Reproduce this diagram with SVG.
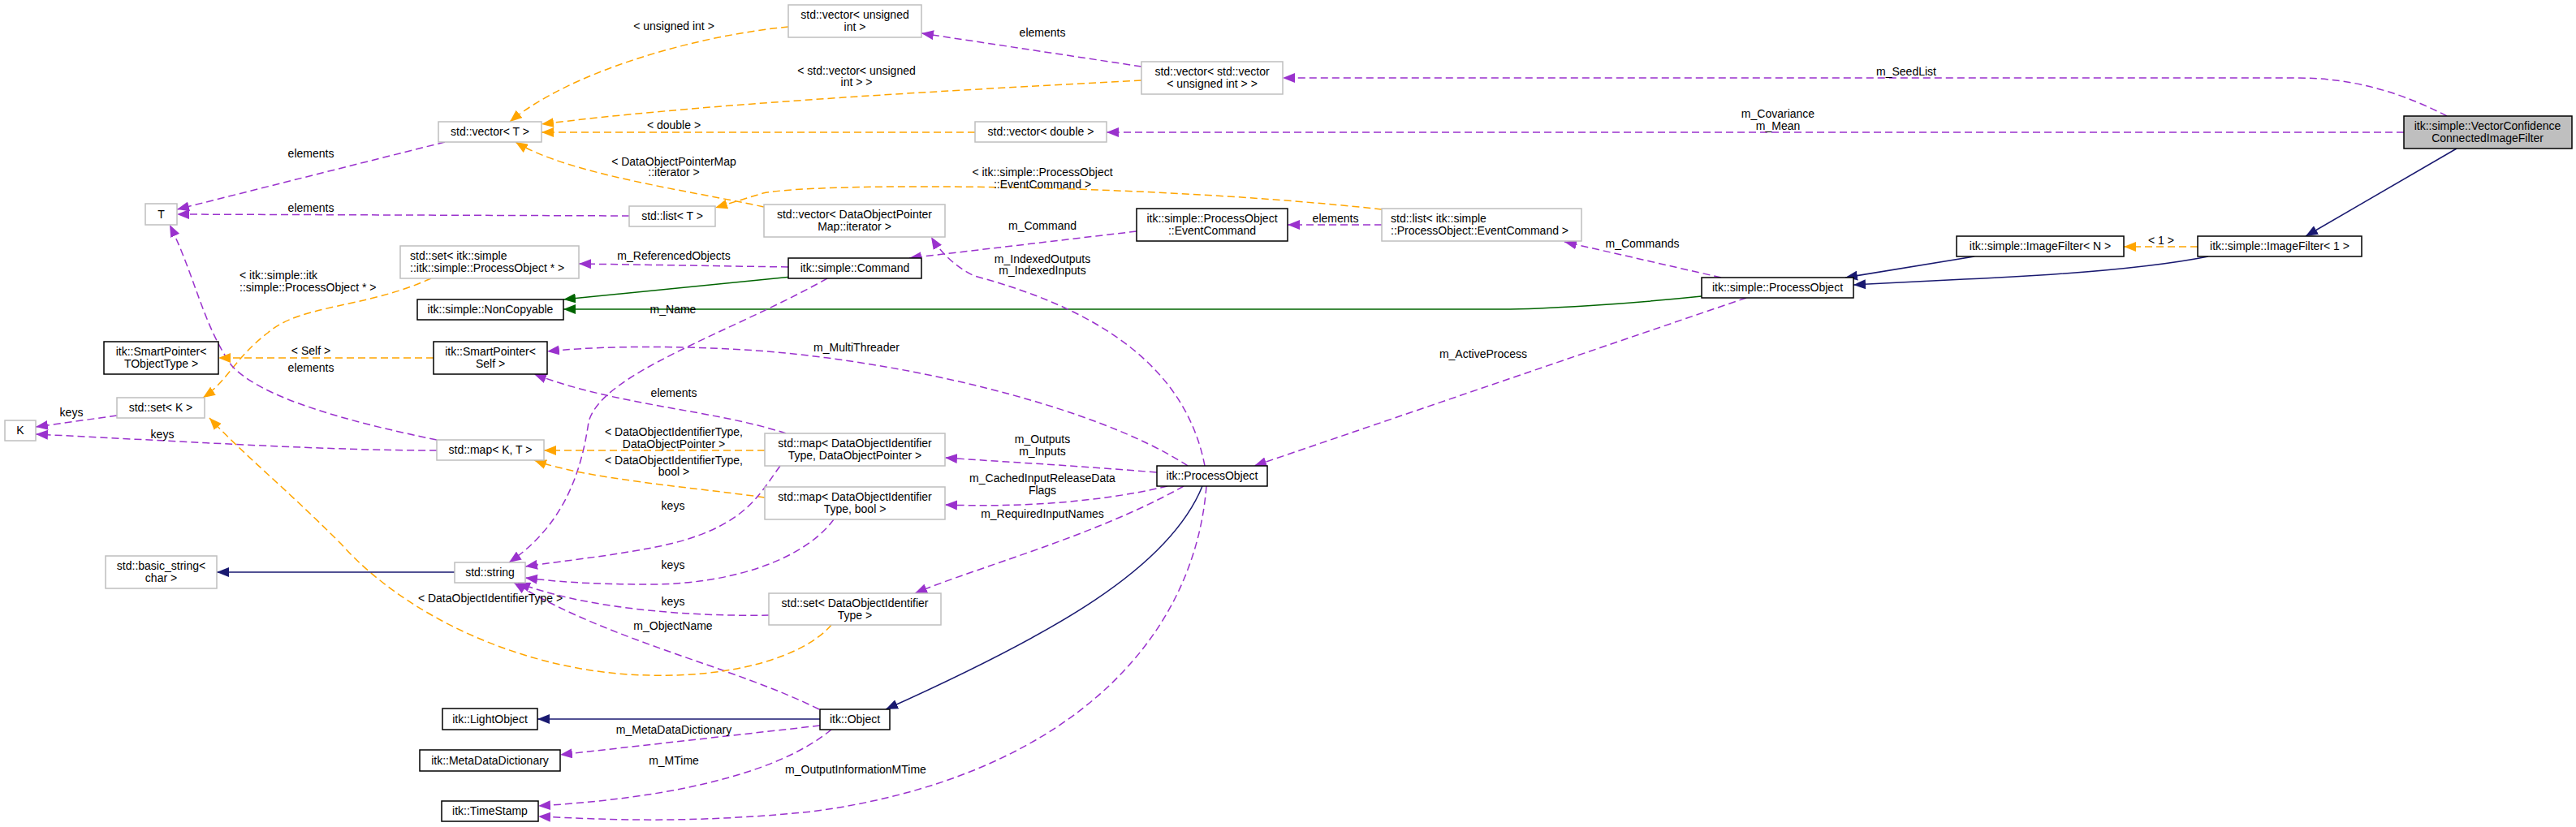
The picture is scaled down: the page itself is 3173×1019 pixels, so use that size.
<svg xmlns="http://www.w3.org/2000/svg" width="3173" height="1019" viewBox="0 0 3173 1019">
<style>
text{font-family:"Liberation Sans",Arial,sans-serif;font-size:14px;fill:#000;text-anchor:middle}
.l{text-anchor:start}
.g rect{fill:#fff;stroke:#bfbfbf;stroke-width:1.5}
.b rect{fill:#fff;stroke:#000;stroke-width:1.5}
.cur rect{fill:#bfbfbf;stroke:#000;stroke-width:1.5}
.e path{fill:none;stroke-width:1.5}
.u{stroke:#9a32cd;stroke-dasharray:9,5;marker-end:url(#ap)}
.t{stroke:#ffa500;stroke-dasharray:9,5;marker-end:url(#ao)}
.i{stroke:#191970;marker-end:url(#ab)}
.p{stroke:#006400;marker-end:url(#ag)}
</style>
<defs>
<marker id="ap" markerUnits="userSpaceOnUse" markerWidth="16" markerHeight="12" refX="15" refY="6" orient="auto"><path d="M0,0 L15,6 L0,12 z" fill="#9a32cd"/></marker>
<marker id="ao" markerUnits="userSpaceOnUse" markerWidth="16" markerHeight="12" refX="15" refY="6" orient="auto"><path d="M0,0 L15,6 L0,12 z" fill="#ffa500"/></marker>
<marker id="ab" markerUnits="userSpaceOnUse" markerWidth="16" markerHeight="12" refX="15" refY="6" orient="auto"><path d="M0,0 L15,6 L0,12 z" fill="#191970"/></marker>
<marker id="ag" markerUnits="userSpaceOnUse" markerWidth="16" markerHeight="12" refX="15" refY="6" orient="auto"><path d="M0,0 L15,6 L0,12 z" fill="#006400"/></marker>
</defs>
<rect width="3173" height="1019" fill="#fff"/>
<g id="connectors" class="e">
<path class="i" d="M3026,183 L2840,291"/>
<path class="u" d="M3014,143 C2960,115 2900,96 2830,96 L1580,96"/>
<path class="u" d="M2961,163 L1363,163"/>
<path class="t" d="M2707,304 L2616,304"/>
<path class="i" d="M2720,316 C2640,332 2520,340 2400,345 L2283,351"/>
<path class="i" d="M2432,316 L2273,342"/>
<path class="p" d="M2096,365 C2000,375 1900,381 1850,381 L694,381"/>
<path class="p" d="M975,341 L694,369"/>
<path class="u" d="M2120,342 L1927,298"/>
<path class="u" d="M2151,367 L1545,574"/>
<path class="u" d="M1702,277 L1586,277"/>
<path class="t" d="M1702,258 C1400,225 1000,225 940,238 L881,256"/>
<path class="u" d="M1400,285 L1120,318"/>
<path class="u" d="M1406,82 L1135,41"/>
<path class="t" d="M1406,99 C1100,115 850,130 667,153"/>
<path class="t" d="M971,33 C850,45 700,90 628,150"/>
<path class="t" d="M1201,163 L667,163"/>
<path class="t" d="M941,255 C850,235 700,215 635,175"/>
<path class="u" d="M775,266 L218,264"/>
<path class="u" d="M548,175 L218,258"/>
<path class="u" d="M1484,574 C1460,450 1350,380 1200,340 C1170,325 1155,305 1147,292"/>
<path class="u" d="M971,329 L713,325"/>
<path class="t" d="M531,343 C450,380 370,375 330,410 C290,440 280,470 250,490"/>
<path class="u" d="M1019,343 C900,410 740,460 725,520 C715,590 690,650 627,693"/>
<path class="u" d="M1463,574 C1350,500 1100,440 900,430 C800,425 720,428 674,433"/>
<path class="u" d="M968,534 C880,505 760,500 658,461"/>
<path class="t" d="M942,555 L670,555"/>
<path class="t" d="M942,613 C850,600 720,590 658,567"/>
<path class="u" d="M538,542 C430,520 320,490 285,450 C250,400 240,340 209,277"/>
<path class="t" d="M534,441 L269,441"/>
<path class="u" d="M144,512 L44,526"/>
<path class="u" d="M538,555 C400,555 250,545 44,535"/>
<path class="u" d="M1425,582 C1300,572 1250,570 1164,564"/>
<path class="u" d="M1438,599 C1350,620 1250,625 1164,622"/>
<path class="u" d="M1458,599 C1350,660 1200,700 1127,731"/>
<path class="u" d="M961,574 C935,610 920,640 851,663 C800,680 700,690 647,698"/>
<path class="u" d="M1027,640 C990,690 900,720 800,720 C720,720 680,716 647,712"/>
<path class="u" d="M947,758 C850,760 720,750 638,718"/>
<path class="u" d="M1009,874 C900,820 750,790 633,718"/>
<path class="t" d="M1024,770 C990,810 900,835 800,832 C650,830 500,760 420,670 C350,600 300,560 258,515"/>
<path class="i" d="M1481,599 C1440,700 1300,780 1091,874"/>
<path class="u" d="M1486,599 C1470,800 1300,960 1000,1000 C850,1015 750,1010 663,1006"/>
<path class="i" d="M1010,886 L662,886"/>
<path class="u" d="M1010,894 L690,930"/>
<path class="u" d="M1024,899 C950,960 800,985 663,993"/>
<path class="i" d="M560,705 L267,705"/>
</g>
<g id="edge-labels">
<text x="2348" y="93">m_SeedList</text>
<text x="2190" y="145">m_Covariance</text>
<text x="2190" y="160">m_Mean</text>
<text x="2662" y="301">&lt; 1 &gt;</text>
<text x="2023" y="305">m_Commands</text>
<text x="1827" y="441">m_ActiveProcess</text>
<text x="1645" y="274">elements</text>
<text x="1284" y="45">elements</text>
<text x="1284" y="217">&lt; itk::simple::ProcessObject</text>
<text x="1284" y="232">::EventCommand &gt;</text>
<text x="1284" y="283">m_Command</text>
<text x="1284" y="324">m_IndexedOutputs</text>
<text x="1284" y="338">m_IndexedInputs</text>
<text x="1055" y="92">&lt; std::vector&lt; unsigned</text>
<text x="1055" y="106">int &gt; &gt;</text>
<text x="830" y="37">&lt; unsigned int &gt;</text>
<text x="830" y="159">&lt; double &gt;</text>
<text x="830" y="204">&lt; DataObjectPointerMap</text>
<text x="830" y="217">::iterator &gt;</text>
<text x="383" y="194">elements</text>
<text x="383" y="261">elements</text>
<text x="830" y="320">m_ReferencedObjects</text>
<text class="l" x="295" y="344">&lt; itk::simple::itk</text>
<text class="l" x="295" y="359">::simple::ProcessObject * &gt;</text>
<text x="829" y="386">m_Name</text>
<text x="1055" y="433">m_MultiThreader</text>
<text x="383" y="437">&lt; Self &gt;</text>
<text x="383" y="458">elements</text>
<text x="830" y="489">elements</text>
<text x="88" y="513">keys</text>
<text x="200" y="540">keys</text>
<text x="830" y="537">&lt; DataObjectIdentifierType,</text>
<text x="830" y="552">DataObjectPointer &gt;</text>
<text x="830" y="572">&lt; DataObjectIdentifierType,</text>
<text x="830" y="586">bool &gt;</text>
<text x="1284" y="546">m_Outputs</text>
<text x="1284" y="561">m_Inputs</text>
<text x="1284" y="594">m_CachedInputReleaseData</text>
<text x="1284" y="609">Flags</text>
<text x="1284" y="638">m_RequiredInputNames</text>
<text x="829" y="628">keys</text>
<text x="829" y="701">keys</text>
<text x="604" y="742">&lt; DataObjectIdentifierType &gt;</text>
<text x="829" y="746">keys</text>
<text x="829" y="776">m_ObjectName</text>
<text x="830" y="904">m_MetaDataDictionary</text>
<text x="830" y="942">m_MTime</text>
<text x="1054" y="953">m_OutputInformationMTime</text>
</g>
<g id="n-vcc" class="cur"><rect x="2961" y="143" width="207" height="40"/><text x="3064" y="160">itk::simple::VectorConfidence</text><text x="3064" y="175">ConnectedImageFilter</text></g>
<g id="n-vecvec" class="g"><rect x="1406" y="76" width="174" height="40"/><text x="1493" y="93">std::vector&lt; std::vector</text><text x="1493" y="108">&lt; unsigned int &gt; &gt;</text></g>
<g id="n-vecuint" class="g"><rect x="971" y="6" width="164" height="40"/><text x="1053" y="23">std::vector&lt; unsigned</text><text x="1053" y="38">int &gt;</text></g>
<g id="n-vecT" class="g"><rect x="540" y="150" width="127" height="25"/><text x="603.5" y="167">std::vector&lt; T &gt;</text></g>
<g id="n-vecdouble" class="g"><rect x="1201" y="150" width="162" height="25"/><text x="1282" y="167">std::vector&lt; double &gt;</text></g>
<g id="n-T" class="g"><rect x="179" y="251" width="39" height="26"/><text x="198.5" y="269">T</text></g>
<g id="n-listT" class="g"><rect x="775" y="254" width="106" height="25"/><text x="828" y="271">std::list&lt; T &gt;</text></g>
<g id="n-vecdopm" class="g"><rect x="941" y="252" width="223" height="40"/><text x="1052.5" y="269">std::vector&lt; DataObjectPointer</text><text x="1052.5" y="284">Map::iterator &gt;</text></g>
<g id="n-eventcommand" class="b"><rect x="1400" y="257" width="186" height="40"/><text x="1493" y="274">itk::simple::ProcessObject</text><text x="1493" y="289">::EventCommand</text></g>
<g id="n-listec" class="g"><rect x="1702" y="257" width="246" height="40"/><text class="l" x="1713" y="274">std::list&lt; itk::simple</text><text class="l" x="1713" y="289">::ProcessObject::EventCommand &gt;</text></g>
<g id="n-setpo" class="g"><rect x="493" y="303" width="220" height="40"/><text class="l" x="505" y="320">std::set&lt; itk::simple</text><text class="l" x="505" y="335">::itk::simple::ProcessObject * &gt;</text></g>
<g id="n-command" class="b"><rect x="971" y="318" width="164" height="25"/><text x="1053" y="335">itk::simple::Command</text></g>
<g id="n-noncopyable" class="b"><rect x="514" y="369" width="180" height="25"/><text x="604" y="386">itk::simple::NonCopyable</text></g>
<g id="n-sptobj" class="b"><rect x="128" y="421" width="141" height="40"/><text x="198.5" y="438">itk::SmartPointer&lt;</text><text x="198.5" y="453">TObjectType &gt;</text></g>
<g id="n-spself" class="b"><rect x="534" y="421" width="140" height="40"/><text x="604" y="438">itk::SmartPointer&lt;</text><text x="604" y="453">Self &gt;</text></g>
<g id="n-setK" class="g"><rect x="144" y="490" width="108" height="25"/><text x="198" y="507">std::set&lt; K &gt;</text></g>
<g id="n-K" class="g"><rect x="6" y="518" width="38" height="25"/><text x="25" y="535">K</text></g>
<g id="n-mapKT" class="g"><rect x="538" y="542" width="132" height="25"/><text x="604" y="559">std::map&lt; K, T &gt;</text></g>
<g id="n-mapdop" class="g"><rect x="942" y="534" width="222" height="40"/><text x="1053" y="551">std::map&lt; DataObjectIdentifier</text><text x="1053" y="566">Type, DataObjectPointer &gt;</text></g>
<g id="n-mapbool" class="g"><rect x="942" y="600" width="222" height="40"/><text x="1053" y="617">std::map&lt; DataObjectIdentifier</text><text x="1053" y="632">Type, bool &gt;</text></g>
<g id="n-itkpo" class="b"><rect x="1425" y="574" width="136" height="25"/><text x="1493" y="591">itk::ProcessObject</text></g>
<g id="n-simplepo" class="b"><rect x="2096" y="342" width="187" height="25"/><text x="2189.5" y="359">itk::simple::ProcessObject</text></g>
<g id="n-ifN" class="b"><rect x="2410" y="291" width="206" height="25"/><text x="2513" y="308">itk::simple::ImageFilter&lt; N &gt;</text></g>
<g id="n-if1" class="b"><rect x="2707" y="291" width="202" height="25"/><text x="2808" y="308">itk::simple::ImageFilter&lt; 1 &gt;</text></g>
<g id="n-basicstring" class="g"><rect x="130" y="685" width="137" height="40"/><text x="198.5" y="702">std::basic_string&lt;</text><text x="198.5" y="717">char &gt;</text></g>
<g id="n-string" class="g"><rect x="560" y="693" width="87" height="25"/><text x="603.5" y="710">std::string</text></g>
<g id="n-setdoit" class="g"><rect x="947" y="731" width="212" height="39"/><text x="1053" y="748">std::set&lt; DataObjectIdentifier</text><text x="1053" y="763">Type &gt;</text></g>
<g id="n-lightobject" class="b"><rect x="545" y="873" width="117" height="26"/><text x="603.5" y="891">itk::LightObject</text></g>
<g id="n-mdd" class="b"><rect x="517" y="924" width="173" height="26"/><text x="603.5" y="942">itk::MetaDataDictionary</text></g>
<g id="n-timestamp" class="b"><rect x="544" y="987" width="119" height="25"/><text x="603.5" y="1004">itk::TimeStamp</text></g>
<g id="n-object" class="b"><rect x="1010" y="874" width="86" height="25"/><text x="1053" y="891">itk::Object</text></g>
</svg>
